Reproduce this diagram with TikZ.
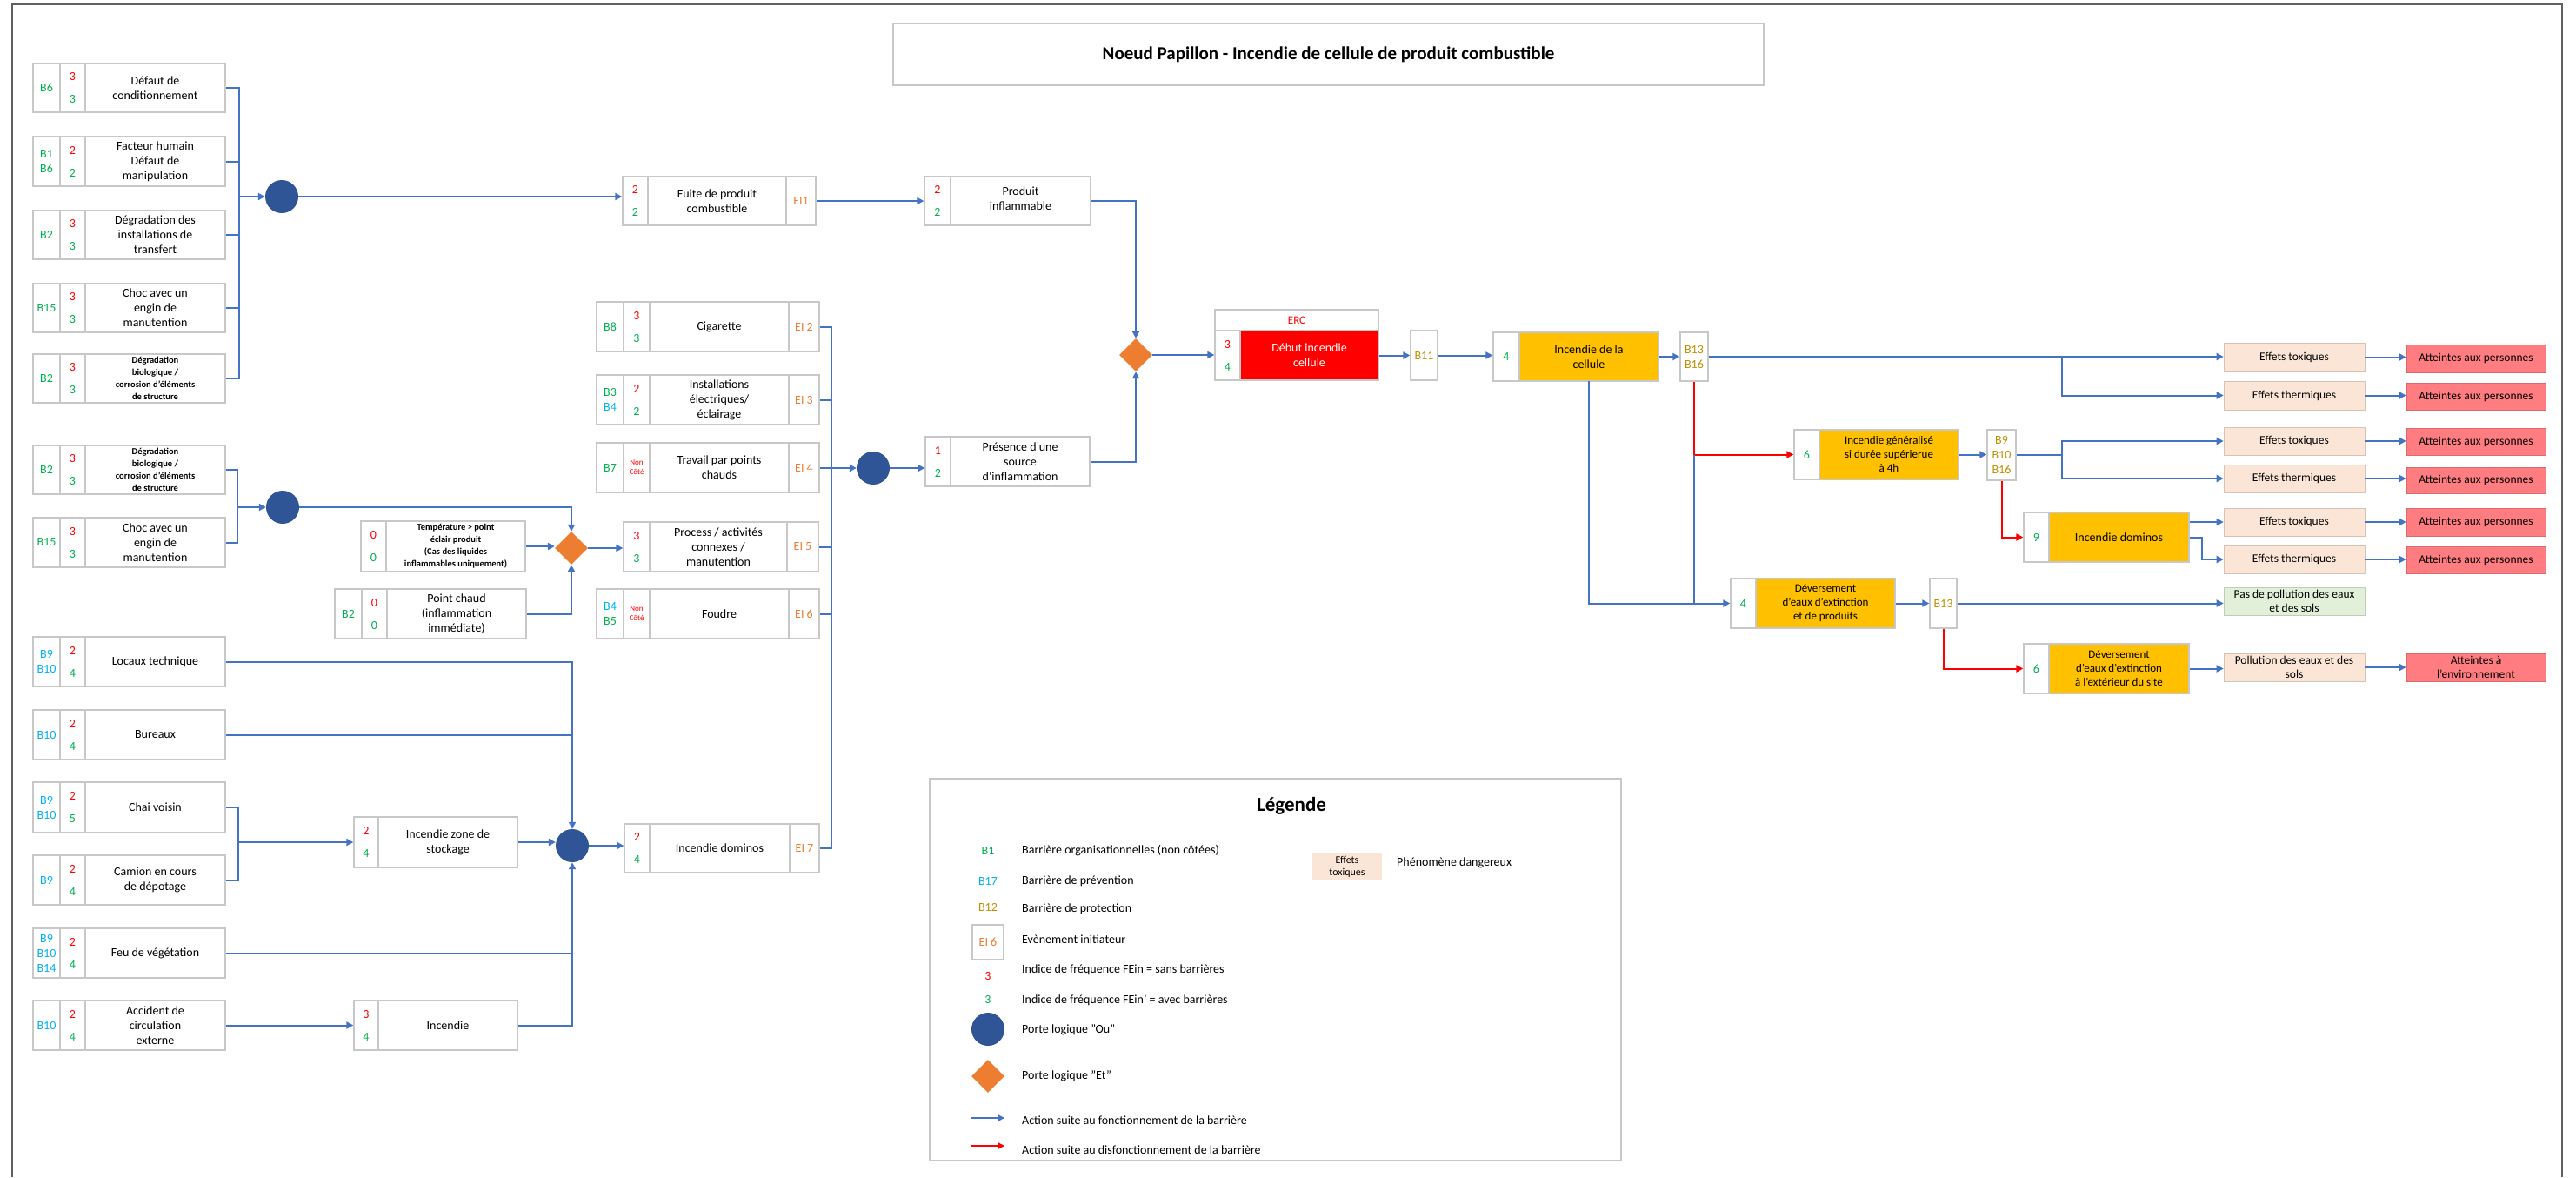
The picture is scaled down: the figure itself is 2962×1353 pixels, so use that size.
\documentclass[tikz,border=0pt]{standalone}
\usepackage{fontspec}
\setmainfont{Carlito}
\usetikzlibrary{arrows.meta,shapes.geometric,fit,calc}
\definecolor{cblue}{HTML}{4472C4}
\definecolor{cred}{HTML}{FF0000}
\definecolor{bg}{HTML}{00B050}
\definecolor{bb}{HTML}{00B0F0}
\definecolor{bo}{HTML}{BF9000}
\definecolor{eio}{HTML}{ED7D31}
\definecolor{orgate}{HTML}{2F5597}
\definecolor{andgate}{HTML}{ED7D31}
\definecolor{ylw}{HTML}{FFC000}
\definecolor{peach}{HTML}{FBE5D6}
\definecolor{pinkr}{HTML}{FF7C80}
\definecolor{lgreen}{HTML}{E2F0D9}
\definecolor{boxgray}{HTML}{C8C8C8}
\definecolor{framec}{HTML}{606060}
\newcommand\FrameBox[5]{\node[bxs, fit={(#2,#3) (#4,#5)}] (#1) {};}
\newcommand\FillBox[6]{\node[inner sep=0pt, fill=#6, fit={(#2,#3) (#4,#5)}] (#1) {};}
\newcommand\VS[3]{\draw[sepl] (#1,#2) -- (#1,#3);}
\newcommand\Fq[4]{\node[nr] at (#1,#2-13) {#3}; \node[ng] at (#1,#2+13) {#4};}
\newcommand\NonCote[2]{\node[nc] at (#1,#2) {Non\\Côté};}
\begin{document}
\begin{tikzpicture}[x=1pt,y=-1pt,
  bxs/.style={draw=boxgray, line width=1.3pt, inner sep=0pt},
  sepl/.style={draw=boxgray, line width=1.3pt},
  t/.style={font=\fontsize{14}{17}\selectfont, align=center, inner sep=0pt},
  ty/.style={font=\fontsize{13}{16}\selectfont, align=center, inner sep=0pt},
  ts/.style={font=\fontsize{10.5}{14}\selectfont\bfseries, align=center, inner sep=0pt},
  nr/.style={t, text=cred},
  ng/.style={t, text=bg},
  nc/.style={font=\fontsize{9}{11}\selectfont, align=center, inner sep=0pt, text=cred},
  bar/.style={t, text=bo},
  lt/.style={font=\fontsize{14}{17}\selectfont, anchor=west, inner sep=0pt},
  bl/.style={draw=cblue, line width=2pt},
  bla/.style={bl, -{Triangle[length=8pt,width=8pt]}},
  rla/.style={draw=cred, line width=2pt, -{Triangle[length=8pt,width=8pt]}},
  orgt/.style={circle, fill=orgate, minimum size=38pt, inner sep=0pt},
  andg/.style={diamond, fill=andgate, minimum size=38pt, inner sep=0pt},
  ef/.style={inner sep=0pt, fill=peach, draw=peach!85!black, line width=0.6pt},
  atbox/.style={inner sep=0pt, fill=pinkr, draw=pinkr!85!black, line width=0.6pt},
  pg/.style={inner sep=0pt, fill=lgreen, draw=lgreen!85!black, line width=0.6pt},
  eft/.style={font=\fontsize{13.5}{16}\selectfont, align=center, inner sep=0pt}
]
\useasboundingbox (0,0) rectangle (2962,1353);
\fill[white] (0,0) rectangle (2962,1353);
\draw[framec, line width=2pt] (14,1353) -- (14,5) -- (2946,5) -- (2946,1353);

% Title
\FrameBox{title}{1027}{27}{2028}{98}
\node[font=\fontsize{21}{25}\selectfont\bfseries, inner sep=0pt] at (title.center) {Noeud Papillon - Incendie de cellule de produit combustible};

% ===== Group A =====
\FrameBox{a1}{38}{73}{259}{129}\VS{69}{73}{129}\VS{98}{73}{129}
\node[t,text=bg] at (53.5,101) {B6}; \Fq{83.5}{101}{3}{3}
\node[t] at (178.5,101) {Défaut de\\conditionnement};
\FrameBox{a2}{38}{157}{259}{214}\VS{69}{157}{214}\VS{98}{157}{214}
\node[t,text=bg] at (53.5,185.5) {B1\\B6}; \Fq{83.5}{185.5}{2}{2}
\node[t] at (178.5,185.5) {Facteur humain\\Défaut de\\manipulation};
\FrameBox{a3}{38}{242}{259}{298}\VS{69}{242}{298}\VS{98}{242}{298}
\node[t,text=bg] at (53.5,270) {B2}; \Fq{83.5}{270}{3}{3}
\node[t] at (178.5,270) {Dégradation des\\installations de\\transfert};
\FrameBox{a4}{38}{326}{259}{382}\VS{69}{326}{382}\VS{98}{326}{382}
\node[t,text=bg] at (53.5,354) {B15}; \Fq{83.5}{354}{3}{3}
\node[t] at (178.5,354) {Choc avec un\\engin de\\manutention};
\FrameBox{a5}{38}{407}{259}{463}\VS{69}{407}{463}\VS{98}{407}{463}
\node[t,text=bg] at (53.5,435) {B2}; \Fq{83.5}{435}{3}{3}
\node[ts] at (178.5,435) {Dégradation\\biologique /\\corrosion d’éléments\\de structure};
\node[orgt] (gA) at (324,226) {};
\coordinate (busA) at (275,226);
\foreach \n in {a1,a2,a3,a4,a5} \draw[bl] (\n.east) -| (busA);
\draw[bla] (busA) -- (gA.west);

% ===== Group B =====
\FrameBox{b1}{38}{512}{259}{568}\VS{69}{512}{568}\VS{98}{512}{568}
\node[t,text=bg] at (53.5,540) {B2}; \Fq{83.5}{540}{3}{3}
\node[ts] at (178.5,540) {Dégradation\\biologique /\\corrosion d’éléments\\de structure};
\FrameBox{b2}{38}{595}{259}{652}\VS{69}{595}{652}\VS{98}{595}{652}
\node[t,text=bg] at (53.5,623.5) {B15}; \Fq{83.5}{623.5}{3}{3}
\node[t] at (178.5,623.5) {Choc avec un\\engin de\\manutention};
\node[orgt] (gB) at (325,583) {};
\coordinate (busB) at (273,583);
\draw[bl] (b1.east) -| (busB);
\draw[bl] (b2.east) -| (busB);
\draw[bla] (busB) -- (gB.west);

% ===== Group C =====
\FrameBox{c1}{38}{732}{259}{789}\VS{69}{732}{789}\VS{98}{732}{789}
\node[t,text=bb] at (53.5,760.5) {B9\\B10}; \Fq{83.5}{760.5}{2}{4}
\node[t] at (178.5,760.5) {Locaux technique};
\FrameBox{c2}{38}{816}{259}{873}\VS{69}{816}{873}\VS{98}{816}{873}
\node[t,text=bb] at (53.5,844.5) {B10}; \Fq{83.5}{844.5}{2}{4}
\node[t] at (178.5,844.5) {Bureaux};
\FrameBox{c3}{38}{899}{259}{957}\VS{69}{899}{957}\VS{98}{899}{957}
\node[t,text=bb] at (53.5,928) {B9\\B10}; \Fq{83.5}{928}{2}{5}
\node[t] at (178.5,928) {Chai voisin};
\FrameBox{c4}{38}{983}{259}{1040}\VS{69}{983}{1040}\VS{98}{983}{1040}
\node[t,text=bb] at (53.5,1011.5) {B9}; \Fq{83.5}{1011.5}{2}{4}
\node[t] at (178.5,1011.5) {Camion en cours\\de dépotage};
\FrameBox{c5}{38}{1067}{259}{1124}\VS{69}{1067}{1124}\VS{98}{1067}{1124}
\node[t,text=bb] at (53.5,1095.5) {B9\\B10\\B14}; \Fq{83.5}{1095.5}{2}{4}
\node[t] at (178.5,1095.5) {Feu de végétation};
\FrameBox{c6}{38}{1150}{259}{1207}\VS{69}{1150}{1207}\VS{98}{1150}{1207}
\node[t,text=bb] at (53.5,1178.5) {B10}; \Fq{83.5}{1178.5}{2}{4}
\node[t] at (178.5,1178.5) {Accident de\\circulation\\externe};

\FrameBox{izone}{407}{939}{595}{997}\VS{435}{939}{997}
\Fq{421}{968}{2}{4}
\node[t] at (515,968) {Incendie zone de\\stockage};
\FrameBox{inc}{407}{1150}{595}{1207}\VS{435}{1150}{1207}
\Fq{421}{1178.5}{3}{4}
\node[t] at (515,1178.5) {Incendie};
\node[orgt] (gC) at (658,972) {};
\coordinate (busC) at (274,968);
\draw[bl] (c3.east) -| (busC);
\draw[bl] (c4.east) -| (busC);
\draw[bla] (busC) -- (izone.west);
\draw[bla] (c6.east) -- (c6.east -| inc.west);
\draw[bla] (c1.east) -| (gC.north);
\draw[bl] (c2.east) -- (c2.east -| gC.north);
\draw[bla] (inc.east) -| (gC.south);
\draw[bl] (c5.east) -- (c5.east -| gC.south);
\draw[bla] (izone.east) -- (izone.east -| gC.west);

% ===== Middle: AND gate 2 =====
\FrameBox{temp}{415}{599}{604}{657}\VS{444}{599}{657}
\Fq{429.5}{628}{0}{0}
\node[ts] at (524,628) {Température > point\\éclair produit\\(Cas des liquides\\inflammables uniquement)};
\FrameBox{pc}{385}{677}{605}{734}\VS{416}{677}{734}\VS{445}{677}{734}
\node[t,text=bg] at (400.5,705.5) {B2}; \Fq{430.5}{705.5}{0}{0}
\node[t] at (525,705.5) {Point chaud\\(inflammation\\immédiate)};
\node[andg] (d2) at (657,630) {};
\draw[bla] (gB.east) -| (d2.north);
\draw[bla] (temp.east) -- (temp.east -| d2.west);
\draw[bla] (pc.east) -| (d2.south);

% ===== EI column =====
\FrameBox{fuite}{716}{203}{938}{259}\VS{745}{203}{259}\VS{904}{203}{259}
\Fq{730.5}{231}{2}{2}
\node[t] at (824.5,231) {Fuite de produit\\combustible};
\node[t,text=eio] at (921,231) {EI1};
\draw[bla] (gA.east) -- (gA.east -| fuite.west);

\FrameBox{cig}{686}{347}{942}{404}\VS{717}{347}{404}\VS{747}{347}{404}\VS{907}{347}{404}
\node[t,text=bg] at (701.5,375.5) {B8}; \Fq{732}{375.5}{3}{3}
\node[t] at (827,375.5) {Cigarette};
\node[t,text=eio] at (924.5,375.5) {EI 2};
\FrameBox{inst}{686}{431}{942}{488}\VS{717}{431}{488}\VS{747}{431}{488}\VS{907}{431}{488}
\node[t] at (701.5,459.5) {\textcolor{bg}{B3}\\\textcolor{bb}{B4}}; \Fq{732}{459.5}{2}{2}
\node[t] at (827,459.5) {Installations\\électriques/\\éclairage};
\node[t,text=eio] at (924.5,459.5) {EI 3};
\FrameBox{trav}{686}{509}{942}{566}\VS{717}{509}{566}\VS{747}{509}{566}\VS{907}{509}{566}
\node[t,text=bg] at (701.5,537.5) {B7}; \NonCote{732}{537.5}
\node[t] at (827,537.5) {Travail par points\\chauds};
\node[t,text=eio] at (924.5,537.5) {EI 4};
\FrameBox{proc}{717}{600}{941}{657}\VS{747}{600}{657}\VS{905}{600}{657}
\Fq{732}{628.5}{3}{3}
\node[t] at (826,628.5) {Process / activités\\connexes /\\manutention};
\node[t,text=eio] at (923,628.5) {EI 5};
\FrameBox{foud}{686}{677}{942}{734}\VS{717}{677}{734}\VS{747}{677}{734}\VS{907}{677}{734}
\node[t] at (701.5,705.5) {\textcolor{bb}{B4}\\\textcolor{bg}{B5}}; \NonCote{732}{705.5}
\node[t] at (827,705.5) {Foudre};
\node[t,text=eio] at (924.5,705.5) {EI 6};
\FrameBox{dom7}{718}{947}{942}{1003}\VS{747}{947}{1003}\VS{908}{947}{1003}
\Fq{732.5}{975}{2}{4}
\node[t] at (827.5,975) {Incendie dominos};
\node[t,text=eio] at (925,975) {EI 7};
\draw[bla] (gC.east) -- (gC.east -| dom7.west);
\draw[bla] (d2.east) -- (d2.east -| proc.west);

\node[orgt] (gD) at (1004,538) {};
\coordinate (busD) at (956,538);
\foreach \n in {cig,inst,trav,proc,foud,dom7} \draw[bl] (\n.east) -| (busD);
\draw[bla] (busD) -- (gD.west);

% ===== Produit / Presence / AND 1 =====
\FrameBox{produit}{1063}{203}{1254}{259}\VS{1093}{203}{259}
\Fq{1078}{231}{2}{2}
\node[t] at (1173.5,228) {Produit\\inflammable};
\FrameBox{pres}{1064}{502}{1253}{559}\VS{1093}{502}{559}
\Fq{1078.5}{530.5}{1}{2}
\node[t] at (1173,530.5) {Présence d’une\\source\\d’inflammation};
\node[andg] (d1) at (1306,408) {};
\draw[bla] (fuite.east) -- (produit.west);
\draw[bla] (produit.east) -| (d1.north);
\draw[bla] (pres.east) -| (d1.south);
\draw[bla] (gD.east) -- (gD.east -| pres.west);

% ===== ERC and right part =====
\FrameBox{erch}{1397}{356}{1585}{380}
\node[ty,text=cred] at (erch.center) {ERC};
\FillBox{ercf}{1426}{380}{1585}{437}{cred}
\FrameBox{erc}{1397}{380}{1585}{437}\VS{1426}{380}{437}
\Fq{1411.5}{408.5}{3}{4}
\node[t,text=white] at (ercf.center) {Début incendie\\cellule};
\draw[bla] (d1.east) -- (d1.east -| erc.west);

\FrameBox{b11}{1622}{380}{1653}{437}
\node[bar] at (b11.center) {B11};
\draw[bla] (erc.east) -- (erc.east -| b11.west);

\FillBox{icf}{1747}{382}{1907}{438}{ylw}
\FrameBox{ic}{1717}{382}{1907}{438}\VS{1747}{382}{438}
\node[ng] at (1732,410) {4};
\node[t] at (icf.center) {Incendie de la\\cellule};
\draw[bla] (b11.east) -- (b11.east -| ic.west);

\FrameBox{b1316}{1932}{382}{1964}{438}
\node[bar] at (b1316.center) {B13\\B16};
\draw[bla] (ic.east) -- (ic.east -| b1316.west);

\FillBox{igf}{2092}{494}{2252}{551}{ylw}
\FrameBox{ig}{2063}{494}{2252}{551}\VS{2092}{494}{551}
\node[ng] at (2077.5,522.5) {6};
\node[ty] at (igf.center) {Incendie généralisé\\si durée supérierue\\à 4h};

\FrameBox{b91016}{2285}{494}{2318}{552}
\node[bar] at (b91016.center) {B9\\B10\\B16};

\FillBox{domf}{2356}{589}{2517}{646}{ylw}
\FrameBox{dom}{2327}{589}{2517}{646}\VS{2356}{589}{646}
\node[ng] at (2341.5,617.5) {9};
\node[t] at (domf.center) {Incendie dominos};

\FillBox{dev1f}{2019}{665}{2179}{722}{ylw}
\FrameBox{dev1}{1990}{665}{2179}{722}\VS{2019}{665}{722}
\node[ng] at (2004.5,693.5) {4};
\node[ty] at (dev1f.center) {Déversement\\d’eaux d’extinction\\et de produits};

\FrameBox{b13b}{2219}{665}{2250}{722}
\node[bar] at (b13b.center) {B13};

\FillBox{dev2f}{2356}{740}{2517}{797}{ylw}
\FrameBox{dev2}{2327}{740}{2517}{797}\VS{2356}{740}{797}
\node[ng] at (2341.5,768.5) {6};
\node[ty] at (dev2f.center) {Déversement\\d’eaux d’extinction\\à l’extérieur du site};

% effects
\node[ef, fit={(2557,394) (2719,427)}] (et1) {};
\node[ef, fit={(2557,438) (2719,471)}] (eth1) {};
\node[ef, fit={(2557,491) (2719,523)}] (et2) {};
\node[ef, fit={(2557,534) (2719,566)}] (eth2) {};
\node[ef, fit={(2557,584) (2719,616)}] (et3) {};
\node[ef, fit={(2557,627) (2719,659)}] (eth3) {};
\node[pg, fit={(2557,675) (2719,707)}] (pas) {};
\node[ef, fit={(2557,751) (2719,783)}] (pol) {};
\foreach \n in {et1,et2,et3} \node[eft] at (\n.center) {Effets toxiques};
\foreach \n in {eth1,eth2,eth3} \node[eft] at (\n.center) {Effets thermiques};
\node[eft] at (pas.center) {Pas de pollution des eaux\\et des sols};
\node[eft] at (pol.center) {Pollution des eaux et des\\sols};
\node[atbox, fit={(2767,396) (2927,428)}] (at1) {};
\node[atbox, fit={(2767,440) (2927,471)}] (at2) {};
\node[atbox, fit={(2767,492) (2927,523)}] (at3) {};
\node[atbox, fit={(2767,537) (2927,567)}] (at4) {};
\node[atbox, fit={(2767,584) (2927,616)}] (at5) {};
\node[atbox, fit={(2767,628) (2927,659)}] (at6) {};
\node[atbox, fit={(2767,751) (2927,783)}] (env) {};
\foreach \n in {at1,at2,at3,at4,at5,at6} \node[eft] at (\n.center) {Atteintes aux personnes};
\node[eft] at (env.center) {Atteintes à\\l’environnement};

% right connectors
\draw[bla] (b1316.east) -- (b1316.east -| et1.west);
\coordinate (br1) at (2371,410);
\draw[bla] (br1) |- (eth1.west);
\draw[rla] (b1316.south) |- (ig.west);
\draw[bl] (b1316.south |- ig.west) -- (b1316.south |- dev1.west);
\draw[bla] (icf.south) |- (dev1.west);
\draw[bla] (ig.east) -- (ig.east -| b91016.west);
\coordinate (br2) at (2371,523);
\draw[bl] (b91016.east) -- (br2);
\draw[bla] (br2) |- (et2.west);
\draw[bla] (br2) |- (eth2.west);
\draw[rla] (b91016.south) |- (dom.west);
\draw[bla] (dom.east |- et3.west) -- (et3.west);
\draw[bla] (dom.east) -- ++(14,0) |- (eth3.west);
\draw[bla] (dev1.east) -- (dev1.east -| b13b.west);
\draw[bla] (b13b.east) -- (b13b.east -| pas.west);
\draw[rla] (b13b.south) |- (dev2.west);
\draw[bla] (dev2.east) -- (dev2.east -| pol.west);
\draw[bla] (pol.east) -- (pol.east -| env.west);
\foreach \a/\b in {et1/at1,eth1/at2,et2/at3,eth2/at4,et3/at5,eth3/at6}
  \draw[bla] (\a.east) -- (\a.east -| \b.west);

% ===== Legend =====
\FrameBox{leg}{1069}{895}{1864}{1334}
\node[font=\fontsize{23}{27}\selectfont\bfseries, inner sep=0pt] at (1485,926) {Légende};
\node[t,text=bg] at (1136,978) {B1};
\node[lt] at (1175,978) {Barrière organisationnelles (non côtées)};
\node[t,text=bb] at (1136,1013) {B17};
\node[lt] at (1175,1013) {Barrière de prévention};
\node[t,text=bo] at (1136,1043) {B12};
\node[lt] at (1175,1045) {Barrière de protection};
\FrameBox{legei}{1118}{1063}{1154}{1103}
\node[t,text=eio] at (legei.center) {EI 6};
\node[lt] at (1175,1080) {Evènement initiateur};
\node[t,text=cred] at (1136,1122) {3};
\node[lt] at (1175,1115) {Indice de fréquence FEin = sans barrières};
\node[t,text=bg] at (1136,1149) {3};
\node[lt] at (1175,1150) {Indice de fréquence FEin’ = avec barrières};
\node[orgt] (legor) at (1136,1183) {};
\node[lt] at (1175,1184) {Porte logique "Ou"};
\node[andg] (legand) at (1136,1237) {};
\node[lt] at (1175,1237) {Porte logique "Et"};
\coordinate (la1) at (1116,1285); \coordinate (la2) at (1155,1285);
\draw[bla, line width=1.6pt] (la1) -- (la2);
\node[lt] at (1175,1288) {Action suite au fonctionnement de la barrière};
\coordinate (lr1) at (1116,1317); \coordinate (lr2) at (1155,1317);
\draw[rla, line width=1.6pt] (lr1) -- (lr2);
\node[lt] at (1175,1322) {Action suite au disfonctionnement de la barrière};
\node[inner sep=0pt, fill=peach, fit={(1509,980) (1589,1012)}] (legef) {};
\node[font=\fontsize{12}{14}\selectfont, align=center, inner sep=0pt] at (legef.center) {Effets\\toxiques};
\node[lt] at (1606,992) {Phénomène dangereux};
\end{tikzpicture}
\end{document}
